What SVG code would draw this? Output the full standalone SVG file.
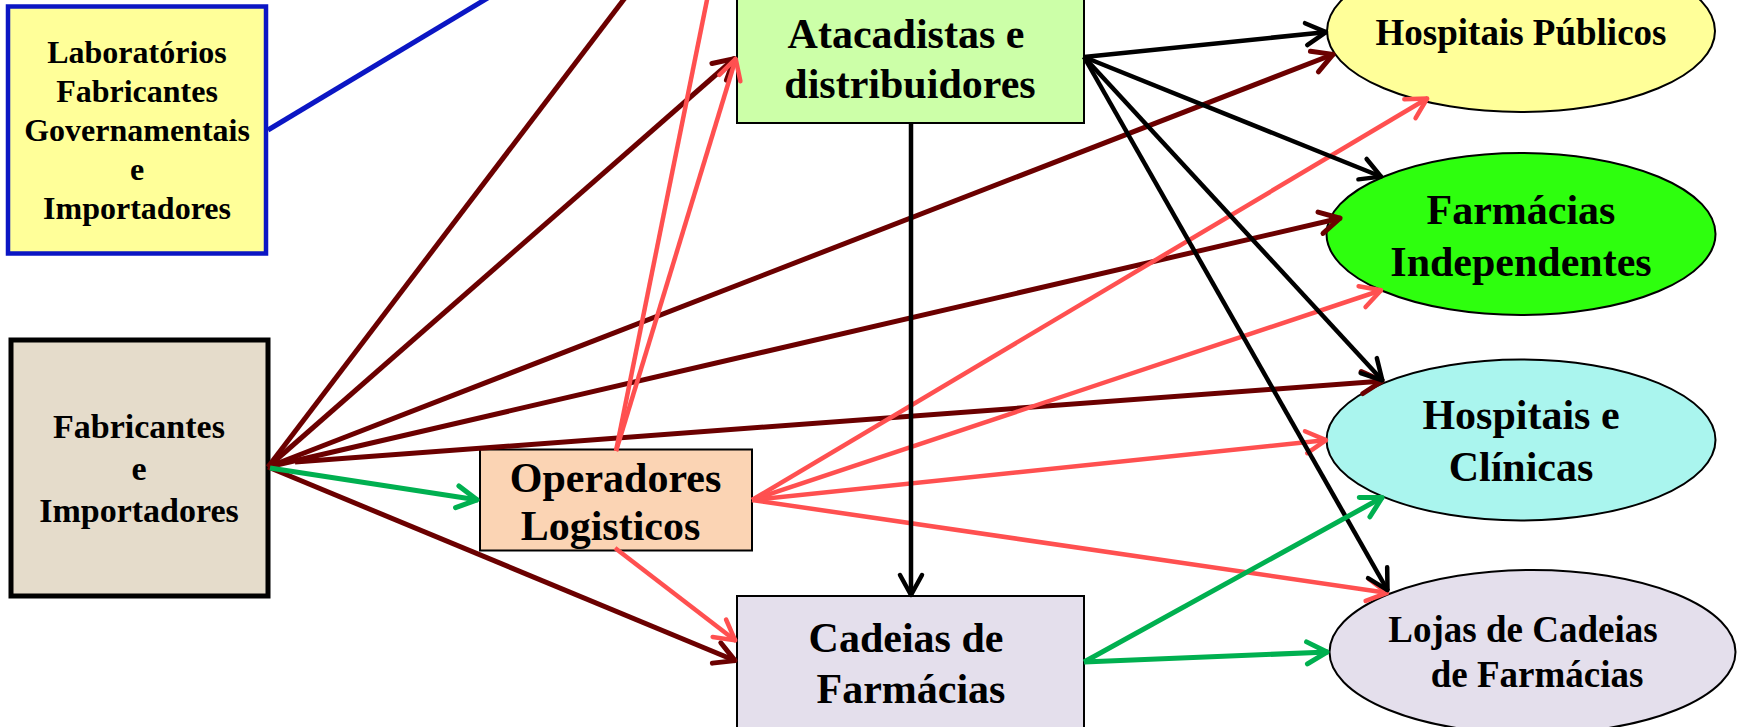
<svg xmlns="http://www.w3.org/2000/svg" width="1741" height="727" viewBox="0 0 1741 727">
<style>
.t{font-family:"Liberation Serif","Times New Roman",serif;font-weight:bold;fill:#000;text-anchor:middle}
.box{stroke:#000;stroke-width:2}
.ell{stroke:#000;stroke-width:2}
.c{fill:none}
.mr{stroke:#6B0000;stroke-width:5}
.sa{stroke:#FF5050;stroke-width:4.5}
.gr{stroke:#00B050;stroke-width:5}
.bk{stroke:#000;stroke-width:4.5}
.bl{stroke:#0B16C4;stroke-width:5}
</style>
<defs>
<marker id="a-mr" markerUnits="userSpaceOnUse" viewBox="-26 -15 30 30" markerWidth="30" markerHeight="30" refX="0" refY="0" orient="auto" overflow="visible"><path d="M-21,-11 L-1,0 L-21,11" fill="none" stroke="#6B0000" stroke-width="5" stroke-linecap="round" stroke-linejoin="round"/></marker>
<marker id="a-sa" markerUnits="userSpaceOnUse" viewBox="-26 -15 30 30" markerWidth="30" markerHeight="30" refX="0" refY="0" orient="auto" overflow="visible"><path d="M-21,-11 L-1,0 L-21,11" fill="none" stroke="#FF5050" stroke-width="4.5" stroke-linecap="round" stroke-linejoin="round"/></marker>
<marker id="a-gr" markerUnits="userSpaceOnUse" viewBox="-26 -15 30 30" markerWidth="30" markerHeight="30" refX="0" refY="0" orient="auto" overflow="visible"><path d="M-21,-11 L-1,0 L-21,11" fill="none" stroke="#00B050" stroke-width="5" stroke-linecap="round" stroke-linejoin="round"/></marker>
<marker id="a-bk" markerUnits="userSpaceOnUse" viewBox="-26 -15 30 30" markerWidth="30" markerHeight="30" refX="0" refY="0" orient="auto" overflow="visible"><path d="M-21,-11 L-1,0 L-21,11" fill="none" stroke="#000" stroke-width="4.5" stroke-linecap="round" stroke-linejoin="round"/></marker>
</defs>
<rect width="1741" height="727" fill="#fff"/>

<g id="laboratorios">
<rect x="8" y="6.5" width="258" height="247" fill="#FFFF99" stroke="#0B16C4" stroke-width="4.5"/>
<text class="t" font-size="32" x="137" y="63">Laboratórios</text>
<text class="t" font-size="32" x="137" y="102">Fabricantes</text>
<text class="t" font-size="32" x="137" y="141">Governamentais</text>
<text class="t" font-size="32" x="137" y="180">e</text>
<text class="t" font-size="32" x="137" y="219">Importadores</text>
</g>

<g id="fabricantes">
<rect x="11" y="340" width="257" height="256" fill="#E5DCCB" stroke="#000" stroke-width="5"/>
<text class="t" font-size="34" x="139" y="438">Fabricantes</text>
<text class="t" font-size="34" x="139" y="480">e</text>
<text class="t" font-size="34" x="139" y="522">Importadores</text>
</g>

<g id="atacadistas">
<rect class="box" x="737" y="-10" width="347" height="133" fill="#CCFFA8"/>
<text class="t" font-size="42" x="906" y="48">Atacadistas e</text>
<text class="t" font-size="42" x="910" y="98">distribuidores</text>
</g>

<g id="operadores">
<rect class="box" x="480" y="449.5" width="272" height="101" fill="#FBD4B4"/>
<text class="t" font-size="42" x="615.5" y="492">Operadores</text>
<text class="t" font-size="42" x="610.5" y="540">Logisticos</text>
</g>

<g id="cadeias">
<rect class="box" x="737" y="596" width="347" height="150" fill="#E4DFEC"/>
<text class="t" font-size="42" x="906" y="652">Cadeias de</text>
<text class="t" font-size="42" x="911" y="703">Farmácias</text>
</g>

<g id="hospitais-publicos">
<ellipse class="ell" cx="1521" cy="31" rx="194" ry="81" fill="#FFFF99"/>
<text class="t" font-size="37" x="1521" y="45">Hospitais Públicos</text>
</g>

<g id="farmacias-independentes">
<ellipse class="ell" cx="1521" cy="234" rx="194.5" ry="81" fill="#2EFF0E"/>
<text class="t" font-size="42" x="1521" y="224">Farmácias</text>
<text class="t" font-size="42" x="1521" y="276">Independentes</text>
</g>

<g id="hospitais-clinicas">
<ellipse class="ell" cx="1521" cy="440" rx="194.5" ry="80.5" fill="#AAF5EE"/>
<text class="t" font-size="42" x="1521" y="429">Hospitais e</text>
<text class="t" font-size="42" x="1521" y="481">Clínicas</text>
</g>

<g id="lojas">
<ellipse class="ell" cx="1532.5" cy="652" rx="203" ry="82" fill="#E4DFEC"/>
<text class="t" font-size="37" x="1523" y="642">Lojas de Cadeias</text>
<text class="t" font-size="37" x="1537" y="687">de Farmácias</text>
</g>

<g id="connectors">
<path class="c bl" d="M268,130 L501,-10"/>
<path class="c mr" d="M268,467 L631,-10"/>
<path class="c mr" d="M268,467 L735,58" marker-end="url(#a-mr)"/>
<path class="c mr" d="M268,467 L1334,54" marker-end="url(#a-mr)"/>
<path class="c mr" d="M268,467 L1341,218" marker-end="url(#a-mr)"/>
<path class="c mr" d="M295,462 L1383,381" marker-end="url(#a-mr)"/>
<path class="c mr" d="M268,467 L736,661" marker-end="url(#a-mr)"/>
<path class="c gr" d="M270,468 L478,500" marker-end="url(#a-gr)"/>
<path class="c sa" d="M616,451 L709,-10"/>
<path class="c sa" d="M616,451 L736,58" marker-end="url(#a-sa)"/>
<path class="c sa" d="M615,548 L736,641" marker-end="url(#a-sa)"/>
<path class="c sa" d="M752,500 L1428,98" marker-end="url(#a-sa)"/>
<path class="c sa" d="M752,500 L1382,290" marker-end="url(#a-sa)"/>
<path class="c sa" d="M752,500 L1327,440" marker-end="url(#a-sa)"/>
<path class="c sa" d="M752,500 L1388,593" marker-end="url(#a-sa)"/>
<path class="c bk" d="M911,122 L911,596" marker-end="url(#a-bk)"/>
<path class="c bk" d="M1084,57 L1327,32" marker-end="url(#a-bk)"/>
<path class="c bk" d="M1084,57 L1382,177" marker-end="url(#a-bk)"/>
<path class="c bk" d="M1084,57 L1383,381" marker-end="url(#a-bk)"/>
<path class="c bk" d="M1084,57 L1388,591" marker-end="url(#a-bk)"/>
<path class="c gr" d="M1084,662 L1383,497" marker-end="url(#a-gr)"/>
<path class="c gr" d="M1084,662 L1328,652" marker-end="url(#a-gr)"/>
</g>
</svg>
